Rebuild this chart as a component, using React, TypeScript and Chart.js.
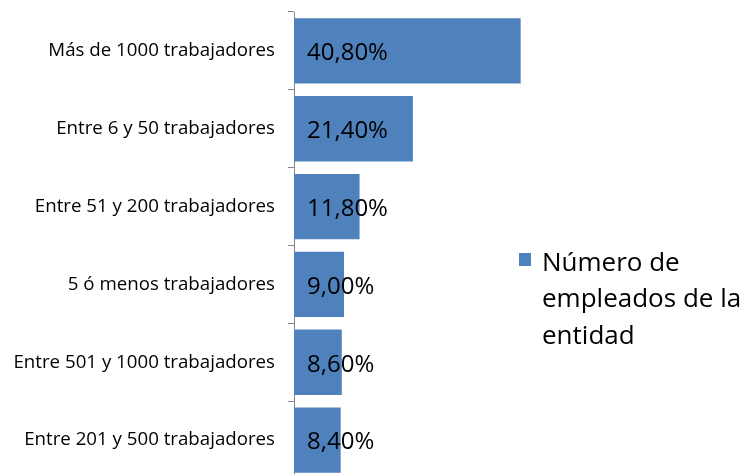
import React, { useEffect, useRef } from "react";
import { Chart, registerables } from "chart.js";

Chart.register(...registerables);

const categories = [
  "Más de 1000 trabajadores",
  "Entre 6 y 50 trabajadores",
  "Entre 51 y 200 trabajadores",
  "5 ó menos trabajadores",
  "Entre 501 y 1000 trabajadores",
  "Entre 201 y 500 trabajadores",
];
const values = [40.8, 21.4, 11.8, 9.0, 8.6, 8.4];
const valueLabels = ["40,80%", "21,40%", "11,80%", "9,00%", "8,60%", "8,40%"];
const seriesName = ["Número de", "empleados de la", "entidad"];

const BAR_COLOR = "#4F81BD";
const AXIS_COLOR = "#868686";
const FONT = "'Open Sans', sans-serif";

export default function App() {
  const ref = useRef<HTMLCanvasElement | null>(null);

  useEffect(() => {
    if (!ref.current) return;

    const dataLabels = {
      id: "dataLabels",
      afterDatasetsDraw(chart: any) {
        const ctx = chart.ctx;
        const meta = chart.getDatasetMeta(0);
        ctx.save();
        ctx.fillStyle = "#000";
        ctx.font = `24px ${FONT}`;
        ctx.textAlign = "left";
        ctx.textBaseline = "middle";
        meta.data.forEach((el: any, i: number) => {
          ctx.fillText(valueLabels[i], el.base + 13, el.y + 2.5);
        });
        ctx.restore();
      },
    };

    const legendPlugin = {
      id: "customLegend",
      afterDraw(chart: any) {
        const ctx = chart.ctx;
        ctx.save();
        ctx.fillStyle = BAR_COLOR;
        ctx.fillRect(519, 253, 12, 13);
        ctx.fillStyle = "#000";
        ctx.font = `26px ${FONT}`;
        ctx.textAlign = "left";
        ctx.textBaseline = "middle";
        seriesName.forEach((line, i) => {
          ctx.fillText(line, 542, 263.5 + i * 36.5);
        });
        ctx.restore();
      },
    };

    const chart = new Chart(ref.current, {
      type: "bar",
      data: {
        labels: categories,
        datasets: [
          {
            label: seriesName.join(" "),
            data: values,
            backgroundColor: BAR_COLOR,
            borderWidth: 0,
            barPercentage: 0.84,
            categoryPercentage: 1,
          },
        ],
      },
      options: {
        indexAxis: "y",
        responsive: false,
        animation: false,
        layout: { padding: { top: 12, right: 202, bottom: 11, left: 0 } },
        plugins: {
          legend: { display: false },
          tooltip: { enabled: false },
        },
        scales: {
          x: {
            display: false,
            min: 0,
            max: 45,
          },
          y: {
            offset: true,
            grid: {
              display: true,
              drawOnChartArea: false,
              drawTicks: true,
              tickLength: 6,
              color: AXIS_COLOR,
              offset: true,
            },
            border: { display: true, color: AXIS_COLOR, width: 1 },
            ticks: {
              color: "#000",
              padding: 13,
              font: { family: FONT, size: 18.7 },
            },
            afterFit(scale: any) {
              scale.width = 294;
              scale.paddingTop = 0;
              scale.paddingBottom = 0;
            },
          },
        },
      },
      plugins: [dataLabels, legendPlugin],
    });
    return () => chart.destroy();
  }, []);

  return (
    <div style={{ position: "fixed", left: 0, top: 0, width: 746, height: 490, background: "#fff" }}>
      <canvas ref={ref} width={746} height={490} />
    </div>
  );
}
